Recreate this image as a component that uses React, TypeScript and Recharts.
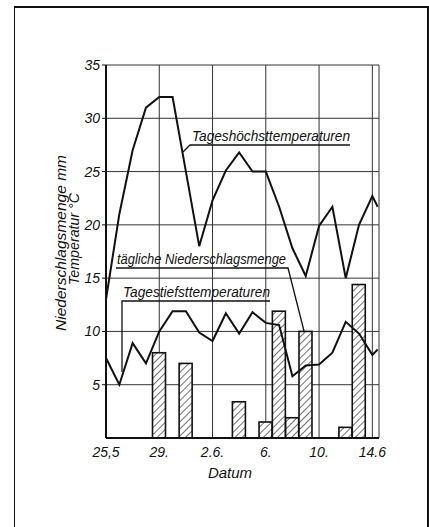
import React from 'react'
import { ComposedChart, Line, Bar, XAxis, YAxis, CartesianGrid } from 'recharts'

// days after 25 May
const days = [0, 1, 2, 3, 4, 5, 6, 7, 8, 9, 10, 11, 12, 13, 14, 15, 16, 17, 18, 19, 20]
const rain = [null, null, null, null, 8, null, 7, null, null, null, 3.4, null, 1.5, 11.9, 1.9, 10, null, null, 1, 14.4, null]

// temperature curves run a little past the last day
const tempDays = [0, 1, 2, 3, 4, 5, 6, 7, 8, 9, 10, 11, 12, 13, 14, 15, 16, 17, 18, 19, 20, 20.4]
const maxTemps = [13, 21, 27, 31, 32, 32, 25, 18, 22.3, 25.1, 26.8, 25, 25, 21.7, 17.8, 15.2, 19.9, 21.7, 15, 20, 22.7, 21.7]
const minTemps = [7.5, 5, 8.9, 7, 10, 11.9, 11.9, 9.9, 9.1, 11.7, 9.8, 11.8, 10.8, 10.6, 5.8, 6.8, 6.9, 8, 10.9, 9.8, 7.8, 8.3]

const xTickDays = [0, 4, 8, 12, 16, 20]
const xTickLabels = ['25,5', '29.', '2.6.', '6.', '10.', '14.6']
const yTicks = [5, 10, 15, 20, 25, 30, 35]

const FONT = '"Liberation Sans", Arial, sans-serif'
const BAR_W = 13

const styles: Record<string, React.CSSProperties> = {
  page: { position: 'absolute', left: 0, top: 0, width: 429, height: 527, background: '#fff', overflow: 'hidden' },
  frame: {
    position: 'absolute', left: 14, top: 6, width: 412, height: 540,
    borderLeft: '1.5px solid #111', borderTop: '2px solid #111', borderRight: '2px solid #111'
  },
  chart: { position: 'absolute', left: 0, top: 0 },
  overlay: { position: 'absolute', left: 0, top: 0, pointerEvents: 'none' }
}

const tickStyle = { fontFamily: FONT, fontStyle: 'italic', fontSize: 14, fill: '#111' }

// hatched bar, one day wide, centred on the library's bar position
function HatchBar(props: any) {
  const { x, y, width, height } = props
  if (height == null || height <= 0) return null
  const cx = x + width / 2
  return (
    <rect x={cx - BAR_W / 2} y={y} width={BAR_W} height={height} fill="url(#hatch)" stroke="#111" strokeWidth={1.6} />
  )
}

export default function App() {
  const data = days.map((d, i) => ({ day: d, rain: rain[i] }))
  const maxData = tempDays.map((d, i) => ({ day: d, max: maxTemps[i] }))
  const minData = tempDays.map((d, i) => ({ day: d, min: minTemps[i] }))

  return (
    <div style={styles.page}>
      <div style={styles.frame} />
      <div style={styles.chart}>
        <ComposedChart width={429} height={527} data={data} margin={{ top: 65, right: 50, bottom: 59, left: 66 }}>
          <defs>
            <pattern id="hatch" width="5" height="5" patternUnits="userSpaceOnUse" patternTransform="rotate(45)">
              <rect width="5" height="5" fill="#fff" />
              <line x1="0" y1="0" x2="0" y2="5" stroke="#111" strokeWidth="1.2" />
            </pattern>
          </defs>
          <CartesianGrid stroke="#333" strokeWidth={1} />
          <XAxis
            dataKey="day"
            type="number"
            domain={[0, 20.5]}
            ticks={xTickDays}
            tickFormatter={(v: number) => xTickLabels[xTickDays.indexOf(v)]}
            height={30}
            tickLine={false}
            tickMargin={3}
            axisLine={{ stroke: '#111', strokeWidth: 2 }}
            tick={tickStyle}
            interval={0}
          />
          <YAxis
            type="number"
            domain={[0, 35]}
            ticks={yTicks}
            width={40}
            tickSize={4}
            tickMargin={2}
            tickLine={{ stroke: '#111' }}
            axisLine={{ stroke: '#111', strokeWidth: 2 }}
            tick={tickStyle}
            interval={0}
          />
          <Bar dataKey="rain" barSize={BAR_W} shape={HatchBar} isAnimationActive={false} />
          <Line data={maxData} type="linear" dataKey="max" stroke="#111" strokeWidth={2} dot={false} activeDot={false} isAnimationActive={false} />
          <Line data={minData} type="linear" dataKey="min" stroke="#111" strokeWidth={2} dot={false} activeDot={false} isAnimationActive={false} />
        </ComposedChart>
      </div>
      <svg width={429} height={527} style={styles.overlay}>
        <g fontFamily={FONT} fontStyle="italic" fill="#111">
          <text transform="translate(66,243) rotate(-90)" textAnchor="middle" fontSize={14} textLength={176} lengthAdjust="spacingAndGlyphs">
            Niederschlagsmenge  mm
          </text>
          <text transform="translate(79,239) rotate(-90)" textAnchor="middle" fontSize={14} textLength={92} lengthAdjust="spacingAndGlyphs">
            Temperatur  °C
          </text>
          <text x={230} y={478} textAnchor="middle" fontSize={15}>Datum</text>

          <text x={192} y={141} fontSize={14} textLength={158} lengthAdjust="spacingAndGlyphs">Tageshöchsttemperaturen</text>
          <text x={117} y={264} fontSize={14} textLength={169} lengthAdjust="spacingAndGlyphs">tägliche Niederschlagsmenge</text>
          <text x={123} y={297} fontSize={14} textLength={147} lengthAdjust="spacingAndGlyphs">Tagestiefsttemperaturen</text>
        </g>
        <g stroke="#111" strokeWidth={1.3} fill="none">
          <polyline points="183,152 190,145 350,145" />
          <polyline points="116,268 288,268 304,331" />
          <polyline points="122,372 122,301 270,301" />
        </g>
      </svg>
    </div>
  )
}
